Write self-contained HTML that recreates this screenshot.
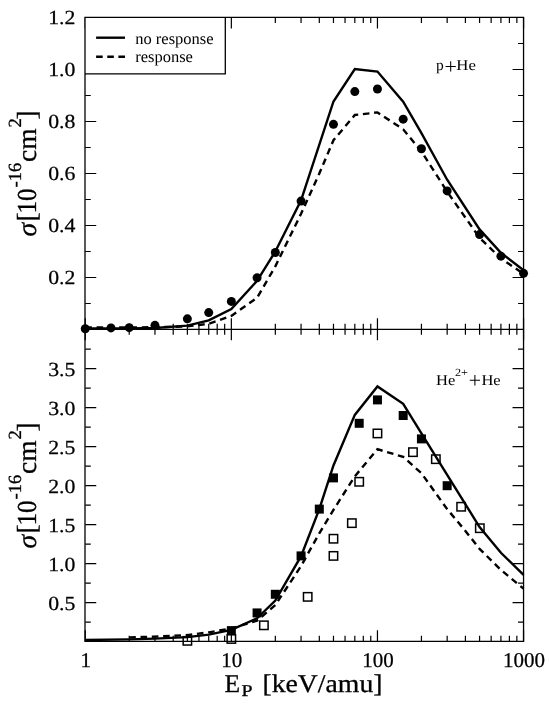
<!DOCTYPE html>
<html><head><meta charset="utf-8"><style>
html,body{margin:0;padding:0;background:#fff;}
svg{display:block;filter:grayscale(1);}
text{font-family:"Liberation Serif",serif;fill:#000;text-rendering:geometricPrecision;}
</style></head><body>
<svg width="550" height="707" viewBox="0 0 550 707">
<rect x="0" y="0" width="550" height="707" fill="#fff"/>
<g fill="none" stroke="#000" stroke-width="1.3">
<path d="M85.25 17.4L85.25 28.4 M85.25 318.3L85.25 340.3 M85.25 630.3L85.25 641.3 M129.23 17.4L129.23 22.9 M129.23 323.8L129.23 334.8 M129.23 635.8L129.23 641.3 M154.96 17.4L154.96 22.9 M154.96 323.8L154.96 334.8 M154.96 635.8L154.96 641.3 M173.21 17.4L173.21 22.9 M173.21 323.8L173.21 334.8 M173.21 635.8L173.21 641.3 M187.37 17.4L187.37 22.9 M187.37 323.8L187.37 334.8 M187.37 635.8L187.37 641.3 M198.94 17.4L198.94 22.9 M198.94 323.8L198.94 334.8 M198.94 635.8L198.94 641.3 M208.72 17.4L208.72 22.9 M208.72 323.8L208.72 334.8 M208.72 635.8L208.72 641.3 M217.19 17.4L217.19 22.9 M217.19 323.8L217.19 334.8 M217.19 635.8L217.19 641.3 M224.66 17.4L224.66 22.9 M224.66 323.8L224.66 334.8 M224.66 635.8L224.66 641.3 M231.35 17.4L231.35 28.4 M231.35 318.3L231.35 340.3 M231.35 630.3L231.35 641.3 M275.33 17.4L275.33 22.9 M275.33 323.8L275.33 334.8 M275.33 635.8L275.33 641.3 M301.06 17.4L301.06 22.9 M301.06 323.8L301.06 334.8 M301.06 635.8L301.06 641.3 M319.31 17.4L319.31 22.9 M319.31 323.8L319.31 334.8 M319.31 635.8L319.31 641.3 M333.47 17.4L333.47 22.9 M333.47 323.8L333.47 334.8 M333.47 635.8L333.47 641.3 M345.04 17.4L345.04 22.9 M345.04 323.8L345.04 334.8 M345.04 635.8L345.04 641.3 M354.82 17.4L354.82 22.9 M354.82 323.8L354.82 334.8 M354.82 635.8L354.82 641.3 M363.29 17.4L363.29 22.9 M363.29 323.8L363.29 334.8 M363.29 635.8L363.29 641.3 M370.76 17.4L370.76 22.9 M370.76 323.8L370.76 334.8 M370.76 635.8L370.76 641.3 M377.45 17.4L377.45 28.4 M377.45 318.3L377.45 340.3 M377.45 630.3L377.45 641.3 M421.43 17.4L421.43 22.9 M421.43 323.8L421.43 334.8 M421.43 635.8L421.43 641.3 M447.16 17.4L447.16 22.9 M447.16 323.8L447.16 334.8 M447.16 635.8L447.16 641.3 M465.41 17.4L465.41 22.9 M465.41 323.8L465.41 334.8 M465.41 635.8L465.41 641.3 M479.57 17.4L479.57 22.9 M479.57 323.8L479.57 334.8 M479.57 635.8L479.57 641.3 M491.14 17.4L491.14 22.9 M491.14 323.8L491.14 334.8 M491.14 635.8L491.14 641.3 M500.92 17.4L500.92 22.9 M500.92 323.8L500.92 334.8 M500.92 635.8L500.92 641.3 M509.39 17.4L509.39 22.9 M509.39 323.8L509.39 334.8 M509.39 635.8L509.39 641.3 M516.86 17.4L516.86 22.9 M516.86 323.8L516.86 334.8 M516.86 635.8L516.86 641.3 M523.55 17.4L523.55 28.4 M523.55 318.3L523.55 340.3 M523.55 630.3L523.55 641.3 M85.25 303.5L90.75 303.5 M518.05 303.5L523.55 303.5 M85.25 277.5L96.25 277.5 M512.55 277.5L523.55 277.5 M85.25 251.5L90.75 251.5 M518.05 251.5L523.55 251.5 M85.25 225.5L96.25 225.5 M512.55 225.5L523.55 225.5 M85.25 199.5L90.75 199.5 M518.05 199.5L523.55 199.5 M85.25 173.5L96.25 173.5 M512.55 173.5L523.55 173.5 M85.25 147.5L90.75 147.5 M518.05 147.5L523.55 147.5 M85.25 121.5L96.25 121.5 M512.55 121.5L523.55 121.5 M85.25 95.5L90.75 95.5 M518.05 95.5L523.55 95.5 M85.25 69.5L96.25 69.5 M512.55 69.5L523.55 69.5 M85.25 43.5L90.75 43.5 M518.05 43.5L523.55 43.5 M85.25 622.2L90.75 622.2 M518.05 622.2L523.55 622.2 M85.25 602.7L96.25 602.7 M512.55 602.7L523.55 602.7 M85.25 583.2L90.75 583.2 M518.05 583.2L523.55 583.2 M85.25 563.7L96.25 563.7 M512.55 563.7L523.55 563.7 M85.25 544.2L90.75 544.2 M518.05 544.2L523.55 544.2 M85.25 524.7L96.25 524.7 M512.55 524.7L523.55 524.7 M85.25 505.2L90.75 505.2 M518.05 505.2L523.55 505.2 M85.25 485.7L96.25 485.7 M512.55 485.7L523.55 485.7 M85.25 466.2L90.75 466.2 M518.05 466.2L523.55 466.2 M85.25 446.7L96.25 446.7 M512.55 446.7L523.55 446.7 M85.25 427.2L90.75 427.2 M518.05 427.2L523.55 427.2 M85.25 407.7L96.25 407.7 M512.55 407.7L523.55 407.7 M85.25 388.2L90.75 388.2 M518.05 388.2L523.55 388.2 M85.25 368.7L96.25 368.7 M512.55 368.7L523.55 368.7 M85.25 349.2L90.75 349.2 M518.05 349.2L523.55 349.2" stroke-width="1.2"/>
<rect x="85" y="17.4" width="140.3" height="56.4" fill="#fff" stroke="none"/>
<path d="M85 73.8H225.3V17.4"/>
<path d="M85 16.75V641.95M84.35 17.4H523.55V641.3H85"/>
<path d="M85.25 329.3L523.55 329.3"/>
</g>
<g fill="none" stroke="#000" stroke-width="1.5">
<rect x="183.17" y="636.64" width="8.4" height="8.4"/>
<rect x="227.15" y="634.77" width="8.4" height="8.4"/>
<rect x="259.69" y="621.12" width="8.4" height="8.4"/>
<rect x="303.48" y="592.65" width="8.4" height="8.4"/>
<rect x="329.27" y="551.7" width="8.4" height="8.4"/>
<rect x="329.27" y="534.54" width="8.4" height="8.4"/>
<rect x="347.65" y="518.94" width="8.4" height="8.4"/>
<rect x="355" y="477.6" width="8.4" height="8.4"/>
<rect x="373.25" y="429.24" width="8.4" height="8.4"/>
<rect x="408.76" y="447.96" width="8.4" height="8.4"/>
<rect x="431.64" y="454.98" width="8.4" height="8.4"/>
<rect x="456.95" y="502.56" width="8.4" height="8.4"/>
<rect x="475.62" y="524.01" width="8.4" height="8.4"/>
</g>
<g fill="none" stroke="#000" stroke-width="2.4" stroke-linejoin="miter">
<polyline points="85.25,328.46 129.23,328.46 154.96,327.94 187.37,325.6 208.72,320.4 231.35,308.96 257.08,280.88 275.33,251.5 301.06,200.28 333.47,101.48 354.82,68.98 377.45,71.58 403.18,101.74 421.43,133.2 447.16,179.74 479.57,229.4 500.92,252.8 523.55,270.22"/>
<polyline points="85.25,327.55 154.96,327.29 187.37,326.38 208.72,323.78 231.35,315.98 257.08,297.78 275.33,266.32 301.06,213.8 319.31,173.5 333.47,140.22 354.82,115 377.45,112.4 403.18,129.3 421.43,151.4 447.16,191.7 479.57,237.72 500.92,258.52 523.55,273.86" stroke-dasharray="6.6 4.7"/>
<polyline points="85.25,639.98 129.23,639.36 154.96,638.58 187.37,637.1 208.72,634.68 231.35,629.84 257.08,618.3 275.33,600.59 301.06,556.21 319.31,509.1 333.47,465.42 354.82,414.88 377.45,386.41 403.18,403.88 421.43,433.44 447.16,474.78 479.57,527.04 500.92,552.78 523.55,574.78"/>
<polyline points="129.23,637.41 154.96,636.63 187.37,635.07 208.72,632.34 231.35,628.44 257.08,620.64 275.33,605.04 301.06,566.04 319.31,533.28 333.47,509.88 354.82,476.34 377.45,449.2 403.18,456.84 421.43,473.22 447.16,509.1 465.41,530.94 479.57,548.88 500.92,569.94 523.55,588.66" stroke-dasharray="6.6 4.7"/>
<path d="M96.1 37.7L125 37.7"/>
<path d="M96.1 56.7L125 56.7" stroke-dasharray="6.6 4.55"/>
</g>
<g fill="#000">
<circle cx="85.25" cy="328.72" r="4.5"/>
<circle cx="110.98" cy="327.94" r="4.5"/>
<circle cx="129.23" cy="327.68" r="4.5"/>
<circle cx="154.96" cy="325.34" r="4.5"/>
<circle cx="187.37" cy="318.84" r="4.5"/>
<circle cx="208.72" cy="312.6" r="4.5"/>
<circle cx="231.35" cy="301.42" r="4.5"/>
<circle cx="257.08" cy="277.76" r="4.5"/>
<circle cx="275.33" cy="252.54" r="4.5"/>
<circle cx="301.06" cy="201.06" r="4.5"/>
<circle cx="333.47" cy="124.36" r="4.5"/>
<circle cx="354.82" cy="91.6" r="4.5"/>
<circle cx="377.45" cy="89" r="4.5"/>
<circle cx="403.18" cy="119.16" r="4.5"/>
<circle cx="421.43" cy="148.8" r="4.5"/>
<circle cx="447.16" cy="190.92" r="4.5"/>
<circle cx="479.57" cy="234.6" r="4.5"/>
<circle cx="500.92" cy="256.18" r="4.5"/>
<circle cx="523.55" cy="273.34" r="4.5"/>
<rect x="226.85" y="626.12" width="9" height="9"/>
<rect x="252.58" y="608.42" width="9" height="9"/>
<rect x="270.83" y="589.78" width="9" height="9"/>
<rect x="296.56" y="551.4" width="9" height="9"/>
<rect x="314.81" y="504.6" width="9" height="9"/>
<rect x="328.97" y="473.4" width="9" height="9"/>
<rect x="354.7" y="418.8" width="9" height="9"/>
<rect x="372.95" y="395.4" width="9" height="9"/>
<rect x="398.68" y="411" width="9" height="9"/>
<rect x="416.93" y="434.4" width="9" height="9"/>
<rect x="442.66" y="481.2" width="9" height="9"/>
</g>
<g font-size="20" text-anchor="end" stroke="#000" stroke-width="0.25">
<text x="75.4" y="284.3" textLength="27.2" lengthAdjust="spacingAndGlyphs">0.2</text>
<text x="75.4" y="232.3" textLength="27.2" lengthAdjust="spacingAndGlyphs">0.4</text>
<text x="75.4" y="180.3" textLength="27.2" lengthAdjust="spacingAndGlyphs">0.6</text>
<text x="75.4" y="128.3" textLength="27.2" lengthAdjust="spacingAndGlyphs">0.8</text>
<text x="75.4" y="76.3" textLength="27.2" lengthAdjust="spacingAndGlyphs">1.0</text>
<text x="75.4" y="24.3" textLength="27.2" lengthAdjust="spacingAndGlyphs">1.2</text>
<text x="75.4" y="609.5" textLength="27.2" lengthAdjust="spacingAndGlyphs">0.5</text>
<text x="75.4" y="570.5" textLength="27.2" lengthAdjust="spacingAndGlyphs">1.0</text>
<text x="75.4" y="531.5" textLength="27.2" lengthAdjust="spacingAndGlyphs">1.5</text>
<text x="75.4" y="492.5" textLength="27.2" lengthAdjust="spacingAndGlyphs">2.0</text>
<text x="75.4" y="453.5" textLength="27.2" lengthAdjust="spacingAndGlyphs">2.5</text>
<text x="75.4" y="414.5" textLength="27.2" lengthAdjust="spacingAndGlyphs">3.0</text>
<text x="75.4" y="375.5" textLength="27.2" lengthAdjust="spacingAndGlyphs">3.5</text>
</g>
<g font-size="21" text-anchor="middle" stroke="#000" stroke-width="0.25">
<text x="85.75" y="666.5">1</text>
<text x="231.85" y="666.5">10</text>
<text x="377.95" y="666.5">100</text>
<text x="524.05" y="666.5">1000</text>
</g>
<g stroke="#000" stroke-width="0.3">
<text x="224.6" y="692" font-size="25.5">E</text>
<text x="241.5" y="696.1" font-size="16.5" textLength="11" lengthAdjust="spacingAndGlyphs">P</text>
<text x="262.5" y="692" font-size="25.5" textLength="120" lengthAdjust="spacingAndGlyphs">[keV/amu]</text>
</g>
<g stroke="#000" stroke-width="0.3">
<text transform="translate(35.6,236.5) rotate(-90)" font-size="27.5" font-style="italic">&#963;</text>
<text transform="translate(35.6,221.5) rotate(-90)" font-size="27.5">[</text>
<text transform="translate(35.6,213.4) rotate(-90)" font-size="27.5" textLength="25" lengthAdjust="spacingAndGlyphs">10</text>
<text transform="translate(20.7,187.5) rotate(-90)" font-size="18.5">-16</text>
<text transform="translate(35.6,162) rotate(-90)" font-size="27.5">cm</text>
<text transform="translate(20.5,127.5) rotate(-90)" font-size="18.5">2</text>
<text transform="translate(35.6,119.5) rotate(-90)" font-size="27.5">]</text>
<text transform="translate(35.6,548.5) rotate(-90)" font-size="27.5" font-style="italic">&#963;</text>
<text transform="translate(35.6,533.5) rotate(-90)" font-size="27.5">[</text>
<text transform="translate(35.6,525.4) rotate(-90)" font-size="27.5" textLength="25" lengthAdjust="spacingAndGlyphs">10</text>
<text transform="translate(20.7,499.5) rotate(-90)" font-size="18.5">-16</text>
<text transform="translate(35.6,474) rotate(-90)" font-size="27.5">cm</text>
<text transform="translate(20.5,439.5) rotate(-90)" font-size="18.5">2</text>
<text transform="translate(35.6,431.5) rotate(-90)" font-size="27.5">]</text>
</g>
<g font-size="16.5">
<text x="135.2" y="43.9">no response</text>
<text x="135.2" y="62.4">response</text>
</g>
<text x="435.9" y="69.6" font-size="15.5">p</text>
<text x="456.3" y="69.6" font-size="15" textLength="19.6" lengthAdjust="spacingAndGlyphs">He</text>
<text x="436" y="384.5" font-size="15" textLength="19.3" lengthAdjust="spacingAndGlyphs">He</text>
<text x="455" y="376.4" font-size="11" textLength="13" lengthAdjust="spacingAndGlyphs">2+</text>
<text x="481.4" y="384.5" font-size="15" textLength="19.3" lengthAdjust="spacingAndGlyphs">He</text>
<path d="M445.6 66.4H455.8M450.7 61.3V71.5M469.8 380.3H480M474.9 375.1V385.5" stroke="#000" stroke-width="1.05" fill="none"/>
</svg>
</body></html>
